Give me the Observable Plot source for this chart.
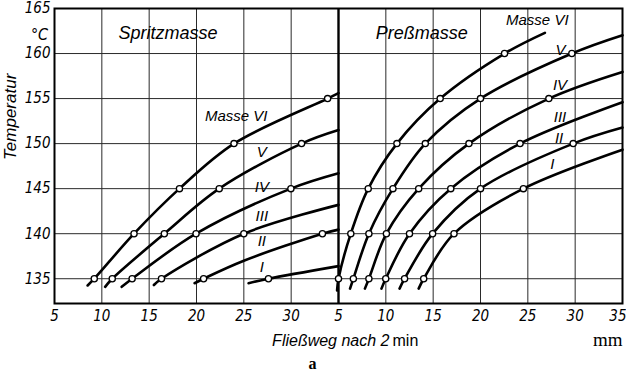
<!DOCTYPE html>
<html><head><meta charset="utf-8">
<script src="https://cdn.jsdelivr.net/npm/d3@7"></script>
<script src="https://cdn.jsdelivr.net/npm/@observablehq/plot@0.6"></script>
<style>
html,body{margin:0;padding:0;background:#fff;}
#chart{width:626px;height:374px;overflow:hidden;}
</style></head><body><div id="chart"></div>
<script>
// ---- data (x = Fließweg in mm, y = Temperatur in °C) ----
const panels = ["Spritzmasse", "Preßmasse"];
const masses = ["I", "II", "III", "IV", "V", "VI"];
const temps = [135, 140, 145, 150, 155, 160, 165];
const xTicksLeft = [5, 10, 15, 20, 25, 30];
const xTicksRight = [5, 10, 15, 20, 25, 30, 35];

// Spritzmasse
const spritzI   = [[25.5,134.5],[27.6,135],[35,136.4]];
const spritzII  = [[19.8,134.5],[20.75,135],[25,137.0],[33.3,140],[35,140.45]];
const spritzIII = [[15.5,134.3],[16.3,135],[25.0,140],[35,143.2]];
const spritzIV  = [[12.1,134.1],[13.2,135],[19.95,140],[29.97,145],[35,146.7]];
const spritzV   = [[10.35,134.1],[11.1,135],[16.6,140],[22.4,145],[31.1,150],[35,151.5]];
const spritzVI  = [[8.5,134.25],[9.2,135],[13.4,140],[18.2,145],[23.96,150],[33.85,155],[35,155.6]];

// Preßmasse
const pressI   = [[13.47,133.9],[14.0,135],[17.2,140],[24.53,145],[35,149.33]];
const pressII  = [[11.45,133.9],[11.98,135],[14.94,140],[20.0,145],[29.79,150],[35,151.78]];
const pressIII = [[9.54,133.9],[9.99,135],[12.5,140],[16.86,145],[24.18,150],[35,154.6]];
const pressIV  = [[7.79,133.9],[8.21,135],[10.06,140],[13.47,145],[18.78,150],[27.22,155],[35,157.96]];
const pressV   = [[6.22,133.9],[6.57,135],[8.21,140],[10.75,145],[14.17,150],[20.0,155],[29.65,160],[35,162.03]];
const pressVI  = [[4.85,133.7],[5.0,135],[6.3,140],[8.14,145],[11.17,150],[15.74,155],[22.54,160],[26.8,162.3]];

// annotation anchors (data units of each panel)
const curveLabelsLeft  = [["Masse VI",24.2,153.1],["V",26.9,149.1],["IV",26.9,145.2],["III",26.9,141.9],["II",26.9,139.2],["I",26.9,136.3]];
const curveLabelsRight = [["Masse VI",26.0,163.7],["V",28.45,160.4],["IV",28.4,156.5],["III",28.4,152.9],["II",28.3,150.6],["I",27.6,147.7]];
const titleAnchors = [[17.0,162.3],[13.8,162.3]];

// ---- build tables ----
const span = 30; // width of one panel in mm; right panel is drawn after the left one
const off = p => p === panels[1] ? span : 0;
const rows = [];
[[panels[0], [spritzI, spritzII, spritzIII, spritzIV, spritzV, spritzVI]],
 [panels[1], [pressI, pressII, pressIII, pressIV, pressV, pressVI]]].forEach(([panel, series]) => {
  series.forEach((pts, i) => pts.forEach(([x, y]) => rows.push({panel, mass: masses[i], x, y, X: x + off(panel), mark: temps.includes(y)})));
});
const labels = [
  ...curveLabelsLeft.map(([t,x,y]) => ({t, X: x + off(panels[0]), y})),
  ...curveLabelsRight.map(([t,x,y]) => ({t, X: x + off(panels[1]), y}))
];
const titles = panels.map((p, i) => ({t: p, X: titleAnchors[i][0] + off(p), y: titleAnchors[i][1]}));
const xTicksAll = [...xTicksLeft.map(v => ({v, X: v + off(panels[0])})), ...xTicksRight.map(v => ({v, X: v + off(panels[1])}))];
const gridX = xTicksAll.filter(d => d.v !== 5 && d.v !== 35).map(d => d.X);
const lastTick = xTicksAll[xTicksAll.length - 1];
const innerTicks = xTicksAll.slice(0, -1);
const tickLabel = new Map(xTicksAll.map(d => [d.X, d.v]));

const narrow = "'Liberation Sans Narrow','DejaVu Sans Condensed','Liberation Sans',sans-serif";
const sans = "'Liberation Sans','DejaVu Sans',sans-serif";

const chart = Plot.plot({
  width: 626, height: 374,
  marginTop: 8, marginBottom: 71, marginLeft: 54, marginRight: 4,
  x: {domain: [5, 5 + 2 * span], axis: null},
  y: {domain: [132.25, 165], axis: null},
  style: {fontFamily: narrow, fontStyle: "italic", fontSize: "15px", color: "#000", background: "#fff"},
  marks: [
    Plot.ruleY(temps.slice(0, -1), {stroke: "#2a2a2a", strokeWidth: 1}),
    Plot.ruleX(gridX, {stroke: "#2a2a2a", strokeWidth: 1}),
    Plot.frame({stroke: "#000", strokeWidth: 2}),
    Plot.ruleX([5 + span], {stroke: "#000", strokeWidth: 2.4}),
    Plot.line(rows, {x: "X", y: "y", z: d => d.panel + d.mass, curve: "catmull-rom", stroke: "#000", strokeWidth: 2.6}),
    Plot.dot(rows.filter(d => d.mark), {x: "X", y: "y", r: 3.1, fill: "#fff", stroke: "#000", strokeWidth: 1.3}),
    Plot.axisY({ticks: temps, tickSize: 0, tickPadding: 4, label: null, fontSize: 15}),
    Plot.axisX({ticks: innerTicks.map(d => d.X), tickFormat: d => tickLabel.get(d), tickSize: 0, tickPadding: 7, label: null, fontSize: 15}),
    Plot.text([lastTick], {x: "X", text: d => String(d.v), frameAnchor: "bottom", textAnchor: "end", lineAnchor: "top", dx: 4, dy: 7, fontSize: 15}),
    Plot.text(["°C"], {frameAnchor: "top-left", dx: -15, dy: 20, textAnchor: "middle", fontSize: 16}),
    Plot.text(["Temperatur"], {frameAnchor: "left", rotate: -90, dx: -44, dy: 4, fontFamily: sans, fontSize: 17}),
    Plot.text(titles, {x: "X", y: "y", text: "t", fontFamily: sans, fontSize: 18}),
    Plot.text(labels, {x: "X", y: "y", text: "t", fontFamily: sans, fontSize: 15, fontWeight: d => d.t.startsWith("Masse") ? "normal" : "bold"}),
    Plot.text(["Fließweg nach 2"], {frameAnchor: "bottom", textAnchor: "end", lineAnchor: "bottom", dx: 51, dy: 42, fontFamily: sans, fontSize: 16}),
    Plot.text(["min"], {frameAnchor: "bottom", textAnchor: "start", lineAnchor: "bottom", dx: 54, dy: 42, fontFamily: sans, fontStyle: "normal", fontSize: 16}),
    Plot.text(["mm"], {frameAnchor: "bottom-right", textAnchor: "end", lineAnchor: "bottom", dx: 0, dy: 42, fontFamily: "'Liberation Serif',serif", fontStyle: "normal", fontSize: 19}),
    Plot.text(["a"], {frameAnchor: "bottom", textAnchor: "middle", lineAnchor: "bottom", dx: -26, dy: 65, fontFamily: "'Liberation Serif',serif", fontStyle: "normal", fontWeight: "bold", fontSize: 16})
  ]
});
document.getElementById("chart").appendChild(chart);
</script>
</body></html>
